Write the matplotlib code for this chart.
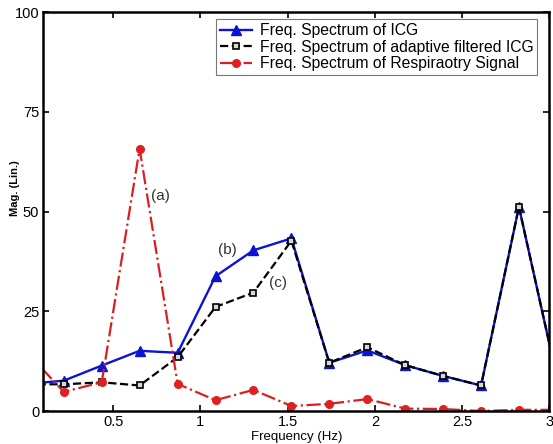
import matplotlib
matplotlib.use("Agg")
import matplotlib.pyplot as plt

plt.rcParams['font.family'] = ['Liberation Sans', 'DejaVu Sans']

# frequency bins (Hz)
freq = [0.0, 0.217, 0.435, 0.652, 0.870, 1.087, 1.304, 1.522, 1.739,
        1.957, 2.174, 2.391, 2.609, 2.826, 3.043]

icg = [6.8, 7.6, 11.4, 15.1, 14.6, 33.8, 40.3, 43.3, 12.1,
       15.2, 11.5, 8.8, 6.4, 51.2, 8.5]
icg_filtered = [6.7, 6.7, 7.2, 6.4, 13.5, 26.1, 29.7, 42.7, 12.1,
                16.0, 11.5, 8.8, 6.4, 51.2, 8.5]
resp = [15.0, 4.8, 7.2, 65.8, 6.8, 2.7, 5.3, 1.25, 1.8,
        3.0, 0.6, 0.5, 0.0, 0.3, 0.3]

labels = ["Freq. Spectrum of ICG",
          "Freq. Spectrum of adaptive filtered ICG",
          "Freq. Spectrum of Respiraotry Signal"]

notes = ["(a)", "(b)", "(c)"]
note_xy = [(0.715, 54.0), (1.10, 40.4), (1.395, 32.2)]

fig = plt.figure(figsize=(5.53, 4.44), dpi=100)
ax = fig.add_axes([0.0783, 0.0743, 0.915, 0.898])

ax.plot(freq, icg, '-', color='#0a14d2', lw=1.7, marker='^', ms=6.5,
        mfc='#0a14d2', mec='#0a14d2', label=labels[0])
ax.plot(freq, icg_filtered, '--', color='black', lw=1.6, marker='s', ms=5,
        mfc='#d8d8d8', mec='black', mew=1.2, label=labels[1])
ax.plot(freq, resp, '-.', color='#d82020', lw=1.6, marker='o', ms=5.5,
        mfc='#e02020', mec='#e02020', label=labels[2])

for txt, (x, y) in zip(notes, note_xy):
    ax.text(x, y, txt, fontsize=11, color='#333333', ha='left', va='center')

ax.set_xlim(0.1, 3.0)
ax.set_ylim(0, 100)
ax.set_xticks([0.5, 1, 1.5, 2, 2.5, 3])
ax.set_xticklabels(["0.5", "1", "1.5", "2", "2.5", "3"])
ax.set_yticks([0, 25, 50, 75, 100])

ax.tick_params(direction='in', top=True, right=True, length=4, width=1.2,
               labelsize=10.5, pad=3)
for side in ax.spines.values():
    side.set_linewidth(1.8)

ax.set_xlabel("Frequency (Hz)", fontsize=9.5, labelpad=1)
ax.set_ylabel("Mag. (Lin.)", fontsize=8, fontweight='bold')
ax.yaxis.set_label_coords(-0.047, 0.56)

leg = ax.legend(loc='upper right', fontsize=11.3, frameon=True, fancybox=False,
                handlelength=2.0, borderpad=0.25, labelspacing=0.1,
                handletextpad=0.5, borderaxespad=0,
                bbox_to_anchor=(0.976, 0.983))
leg.get_frame().set_edgecolor('#555555')
leg.get_frame().set_linewidth(0.8)

fig.savefig("out.png", dpi=100)
